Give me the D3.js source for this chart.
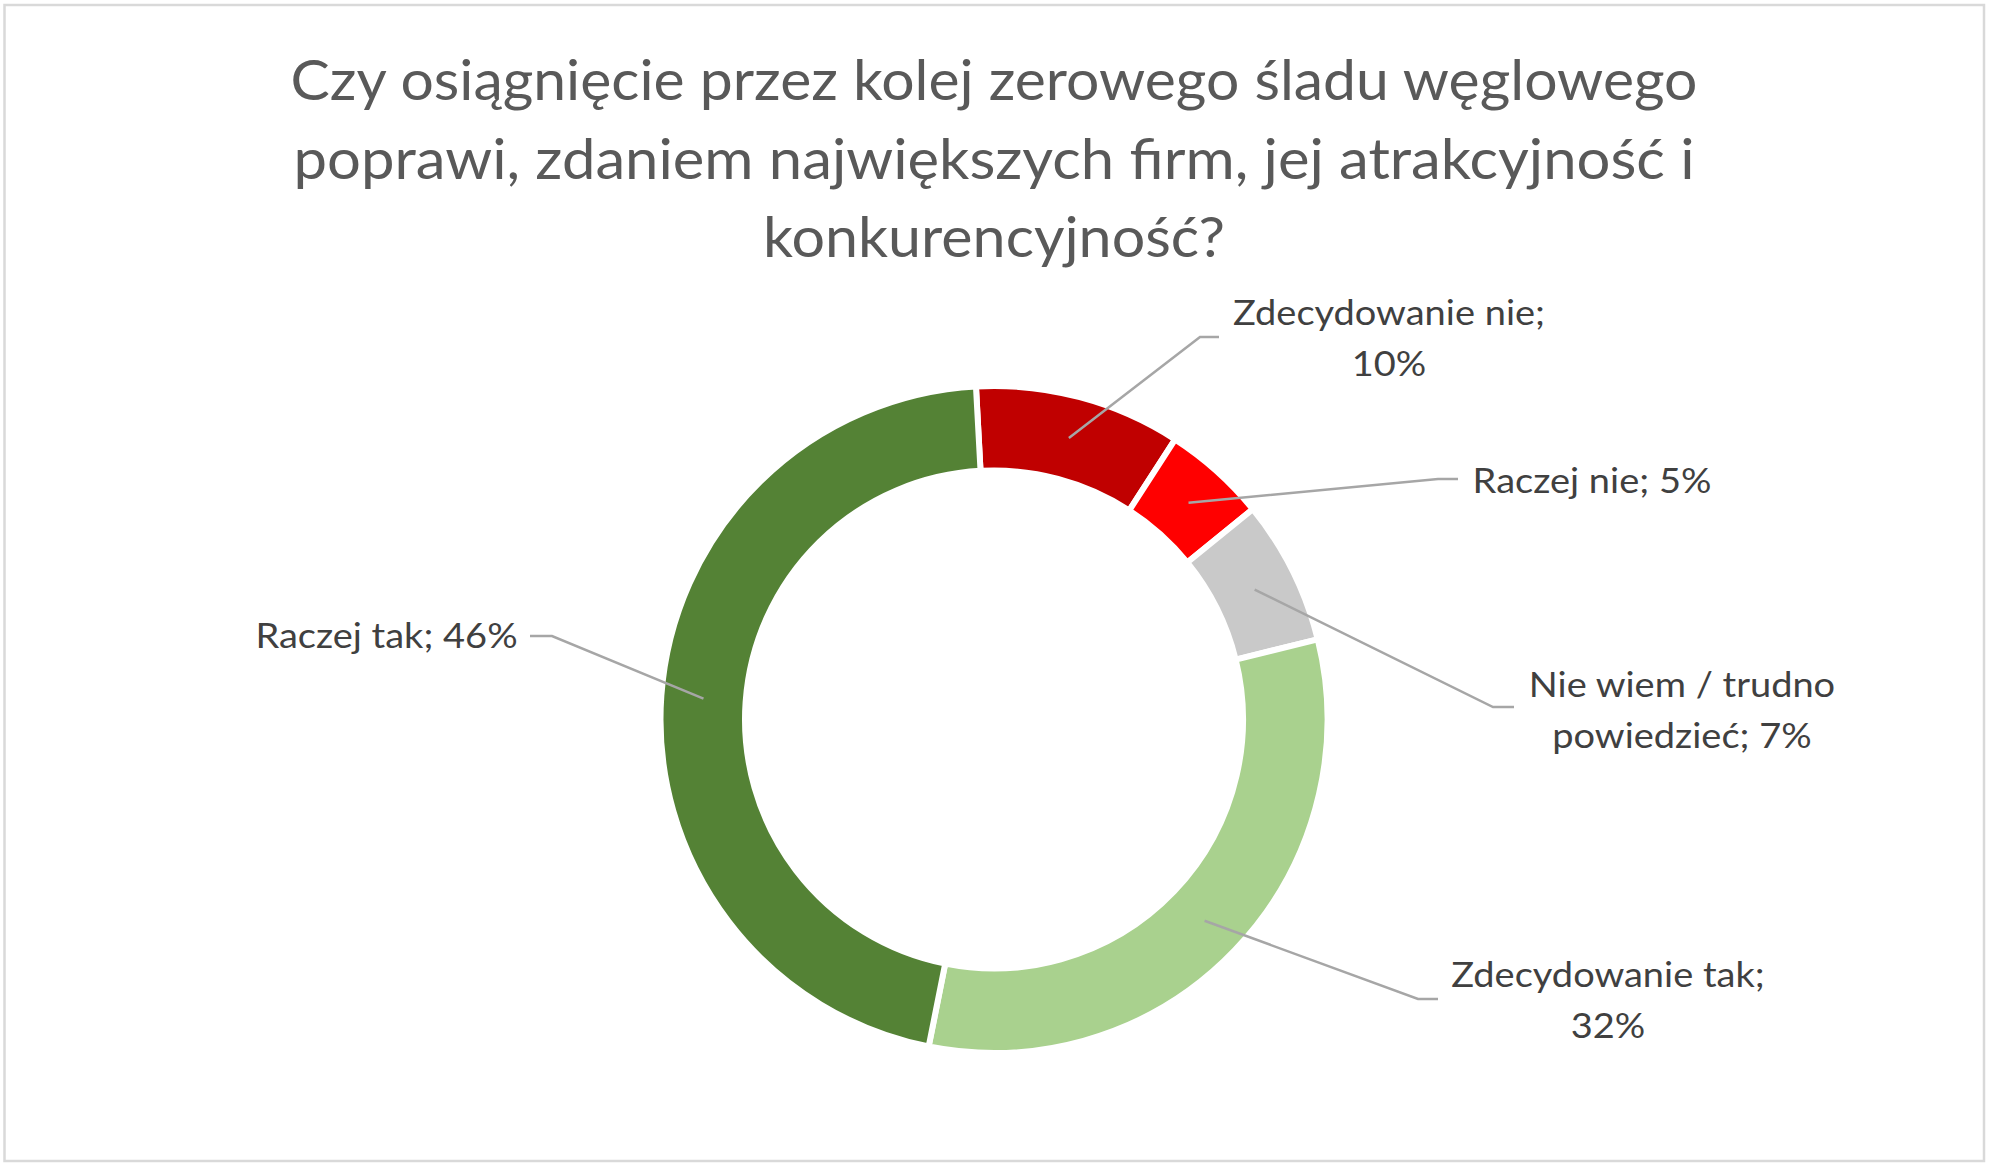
<!DOCTYPE html>
<html><head><meta charset="utf-8">
<script src="https://cdn.jsdelivr.net/npm/d3@7"></script>
<style>html,body{margin:0;padding:0;background:#fff;overflow:hidden}</style>
</head><body>
<svg id="chart" width="1993" height="1168"></svg>
<script>
// ---- data ----
const categories = ["Zdecydowanie nie", "Raczej nie", "Nie wiem / trudno powiedzieć", "Zdecydowanie tak", "Raczej tak"];
const values = [10, 5, 7, 32, 46];
const colors = ["#C00000", "#FF0000", "#C9C9C9", "#A9D18E", "#548235"];
const titleLines = ["Czy osiągnięcie przez kolej zerowego śladu węglowego",
                    "poprawi, zdaniem największych firm, jej atrakcyjność i",
                    "konkurencyjność?"];
const labelFirstLineWords = [2, 0, 4, 2, 0];

// ---- layout ----
const W = 1993, H = 1168, cx = 994, cy = 719.5;
const outerR = 333.5, innerR = 249;
const startDeg = -3.1;
const titleWidths = [1407, 1401, 462];
const labelLayout = [
  {x: 1389, y: 325, elbow: [1200, 337], end: [1219, 337]},
  {x: 1592, y: 493, elbow: [1438, 479], end: [1458, 479]},
  {x: 1682, y: 697, elbow: [1493, 707], end: [1514, 707]},
  {x: 1608, y: 987, elbow: [1418, 999], end: [1438, 999]},
  {x: 386.5, y: 648, elbow: [552, 636], end: [530, 636]}
];
const FONT = "Lato, 'Open Sans', sans-serif";

const svg = d3.select("#chart");
svg.append("rect").attr("width", W).attr("height", H).attr("fill", "#fff");
svg.append("rect").attr("x", 4.5).attr("y", 5).attr("width", 1979.5).attr("height", 1156)
  .attr("fill", "none").attr("stroke", "#D9D9D9").attr("stroke-width", 2.5);

// title
const title = svg.append("g").attr("font-family", FONT).attr("font-size", 56)
  .attr("fill", "#595959").attr("text-anchor", "middle");
title.selectAll("text").data(titleLines).join("text")
  .attr("x", cx).attr("y", (d, i) => 100 + i * 78.5).text(d => d)
  .attr("textLength", (d, i) => titleWidths[i]).attr("lengthAdjust", "spacingAndGlyphs");

// donut
const a0 = startDeg * Math.PI / 180;
const pie = d3.pie().sort(null).startAngle(a0).endAngle(a0 + 2 * Math.PI);
const arcs = pie(values);
const arc = d3.arc().innerRadius(innerR).outerRadius(outerR);
const g = svg.append("g").attr("transform", `translate(${cx},${cy})`);
g.selectAll("path").data(arcs).join("path")
  .attr("d", arc).attr("fill", (d, i) => colors[i])
  .attr("stroke", "#fff").attr("stroke-width", 6).attr("stroke-linejoin", "miter");

// leader lines
const lines = svg.append("g").attr("fill", "none").attr("stroke", "#A6A6A6").attr("stroke-width", 2.5);
arcs.forEach((d, i) => {
  const c = arc.centroid(d);
  const L = labelLayout[i];
  lines.append("polyline")
    .attr("points", [[cx + c[0], cy + c[1]], L.elbow, L.end].map(p => p.join(",")).join(" "));
});

// labels
const lab = svg.append("g").attr("font-family", FONT).attr("font-size", 35)
  .attr("fill", "#404040").attr("text-anchor", "middle");
const allLabelNodes = [];
categories.forEach((cat, i) => {
  const words = (cat + "; " + values[i] + "%").split(" ");
  const n = labelFirstLineWords[i];
  const ls = n > 0 ? [words.slice(0, n).join(" "), words.slice(n).join(" ")] : [words.join(" ")];
  const L = labelLayout[i];
  ls.forEach((t, j) => {
    const node = lab.append("text").attr("x", L.x).attr("y", L.y + j * 51).text(t);
    allLabelNodes.push(node.node());
  });
});
const lFactor = 312 / allLabelNodes[0].getComputedTextLength();
allLabelNodes.forEach(n => {
  const w = n.getComputedTextLength();
  d3.select(n).attr("textLength", w * lFactor).attr("lengthAdjust", "spacingAndGlyphs");
});
</script>
</body></html>
